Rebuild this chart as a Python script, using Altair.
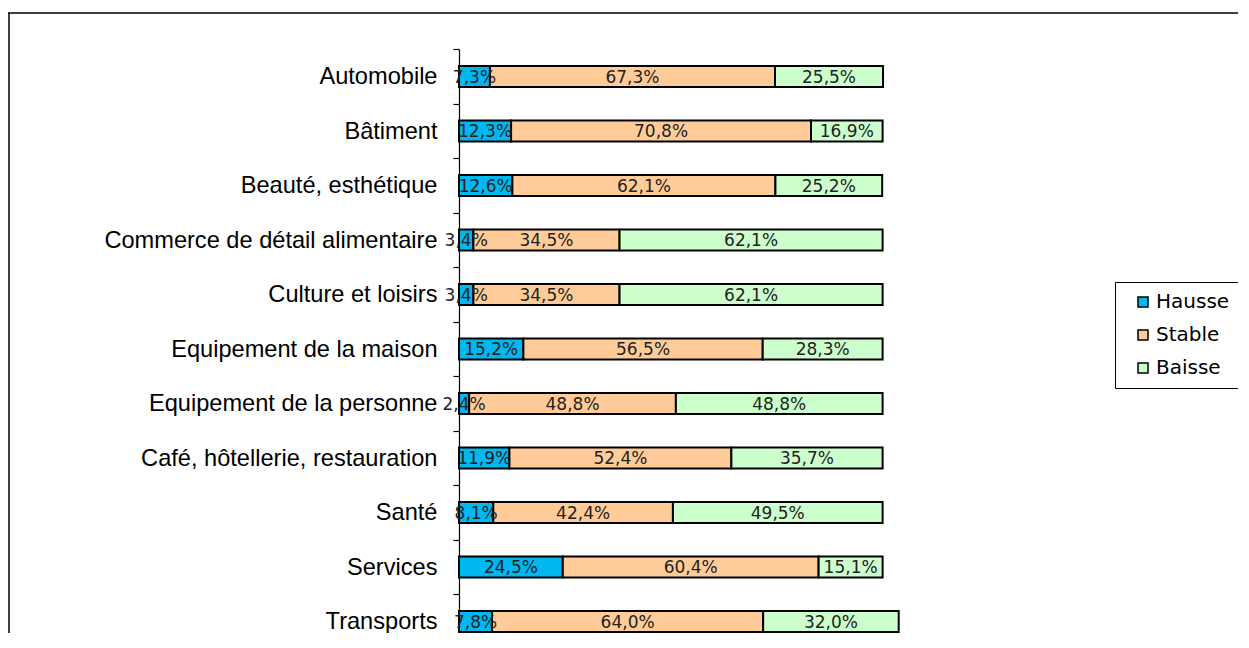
import altair as alt
import pandas as pd

categories = [
    "Automobile",
    "Bâtiment",
    "Beauté, esthétique",
    "Commerce de détail alimentaire",
    "Culture et loisirs",
    "Equipement de la maison",
    "Equipement de la personne",
    "Café, hôtellerie, restauration",
    "Santé",
    "Services",
    "Transports",
]
hausse = [7.3, 12.3, 12.6, 3.4, 3.4, 15.2, 2.4, 11.9, 8.1, 24.5, 7.8]
stable = [67.3, 70.8, 62.1, 34.5, 34.5, 56.5, 48.8, 52.4, 42.4, 60.4, 64.0]
baisse = [25.5, 16.9, 25.2, 62.1, 62.1, 28.3, 48.8, 35.7, 49.5, 15.1, 32.0]
series = ["Hausse", "Stable", "Baisse"]
colors = ["#00B7EF", "#FFCC99", "#CCFFCC"]

rows = []
for i, c in enumerate(categories):
    for k, (s, vals) in enumerate(zip(series, [hausse, stable, baisse])):
        v = vals[i]
        rows.append({"cat": c, "serie": s, "order": k, "value": v,
                     "label": f"{v:.1f}".replace(".", ",") + "%"})
df = pd.DataFrame(rows)

W, H = 1230, 625

xscale = alt.Scale(domain=[0, 100], range=[451, 874.6], nice=False, zero=False)
yscale = alt.Scale(domain=categories, range=[41.25, 640.75], paddingInner=0, paddingOuter=0)
yaxis = alt.Axis(
    title=None, offset=-451, domainColor="black", domainWidth=1.2,
    tickColor="black", tickWidth=1.2, tickSize=6, tickBand="extent",
    labelFont="Liberation Sans", labelFontSize=23.6, labelColor="black",
    labelPadding=16, labelLimit=500, grid=False,
)
yenc = alt.Y("cat:N", sort=categories, scale=yscale, axis=yaxis)

base = alt.Chart(df).transform_stack(
    stack="value", as_=["start", "end"], groupby=["cat"],
    sort=[alt.SortField("order", order="ascending")],
)

bars = base.mark_bar(size=21, stroke="black", strokeWidth=2).encode(
    x=alt.X("start:Q", scale=xscale, axis=None),
    x2="end:Q",
    y=yenc,
    color=alt.Color(
        "serie:N",
        scale=alt.Scale(domain=series, range=colors),
        legend=alt.Legend(
            title=None, orient="none", legendX=1107, legendY=274,
            strokeColor="black", fillColor="white", padding=10,
            symbolType="square", symbolSize=100, symbolStrokeColor="black",
            symbolStrokeWidth=1.5, symbolOffset=8, labelOffset=3,
            labelFont="DejaVu Sans", labelFontSize=20, labelColor="black",
            rowPadding=13,
        ),
    ),
)

texts = base.transform_calculate(mid="(datum.start + datum.end) / 2").mark_text(
    font="DejaVu Sans", fontSize=17, color="#222222", dy=1
).encode(
    x=alt.X("mid:Q", scale=xscale, axis=None),
    y=yenc,
    text="label:N",
)

frame_df = pd.DataFrame({"k": [0]})
frame_top = alt.Chart(frame_df).mark_rule(color="black", strokeWidth=1.5).encode(
    x=alt.value(0), x2=alt.value(W), y=alt.value(5)
)
frame_left = alt.Chart(frame_df).mark_rule(color="black", strokeWidth=1.5).encode(
    x=alt.value(1), y=alt.value(5), y2=alt.value(H)
)

chart = alt.layer(frame_top, frame_left, bars, texts).properties(
    width=W, height=H, padding=0, autosize=alt.AutoSizeParams(type="none"),
    background="white",
).configure_view(stroke=None)

chart.save("out.html", embed_options={"renderer": "svg", "actions": False})
